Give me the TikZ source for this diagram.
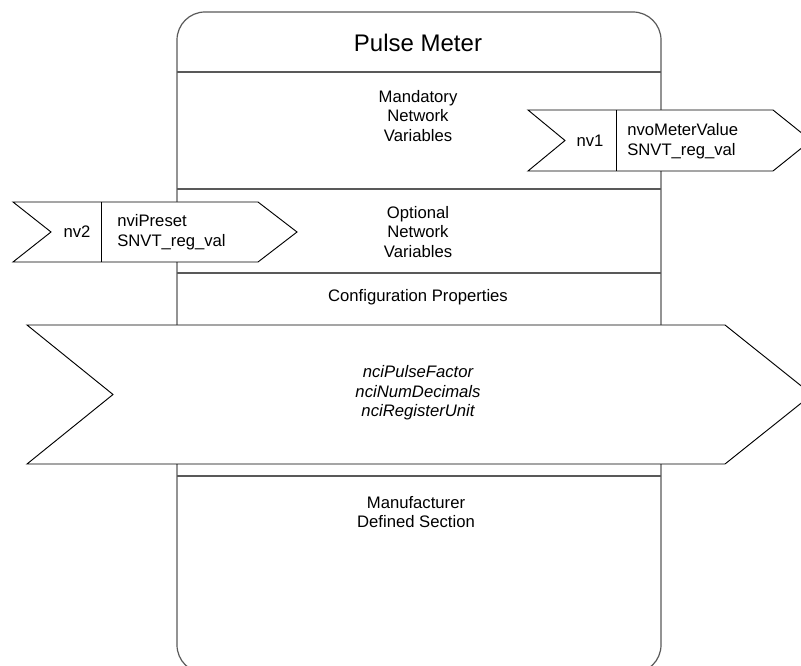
\documentclass[tikz,border=0pt]{standalone}
\usepackage{fontspec}
\setmainfont{Liberation Sans}
\begin{document}
\begin{tikzpicture}[x=0.75pt,y=-0.75pt,
    frameline/.style={draw=black!65,line width=0.9pt},
    tagshape/.style={draw=black,fill=white,line width=0.7pt,line join=miter},
    sectiontext/.style={align=center,inner sep=0pt,font=\fontsize{12.5}{14.6}\selectfont},
    tagtext/.style={align=left,anchor=west,inner sep=0pt,font=\fontsize{12.5}{14.6}\selectfont}]
  \useasboundingbox (0,0) rectangle (801,666);
  \clip (0,0) rectangle (801,666);
  % functional block
  \draw[frameline,rounded corners=21pt] (177,12) rectangle (661,673);
  \begin{scope}[frameline]
    \draw (177,72) -- (661,72);
    \draw (177,189) -- (661,189);
    \draw (177,273) -- (661,273);
    \draw (177,476) -- (661,476);
  \end{scope}
  \node[font=\fontsize{18}{21}\selectfont,inner sep=0pt] (title) at (418,43) {Pulse Meter};
  \node[sectiontext] (mandatory) at (418,116) {Mandatory\\Network\\Variables};
  \node[sectiontext] (optional) at (418,232) {Optional\\Network\\Variables};
  \node[sectiontext] (config) at (418,297) {Configuration Properties};
  \node[sectiontext] (manuf) at (416,512) {Manufacturer\\Defined Section};
  % configuration properties
  \draw[tagshape] (27,325) -- (725,325) -- (812,394.5) -- (725,464) -- (27,464) -- (113,394.5) -- cycle;
  \node[sectiontext,font=\fontsize{12.5}{14.6}\selectfont\itshape] (cplist) at (418,393)
    {nciPulseFactor\\nciNumDecimals\\nciRegisterUnit};
  % network variables
  \draw[tagshape] (528,110) -- (773,110) -- (811,140.5) -- (773,171) -- (528,171) -- (565,140.5) -- cycle;
  \draw[tagshape] (616,110) -- (616,171);
  \node[sectiontext] (nv1) at (590,141) {nv1};
  \node[tagtext] (nv1type) at (627,141) {nvoMeterValue\\SNVT\_reg\_val};
  \draw[tagshape] (13,202) -- (258,202) -- (297,232) -- (258,262) -- (13,262) -- (51,232) -- cycle;
  \draw[tagshape] (101,202) -- (101,262);
  \node[sectiontext] (nv2) at (77,232) {nv2};
  \node[tagtext] (nv2type) at (117,232) {nviPreset\\SNVT\_reg\_val};
\end{tikzpicture}
\end{document}
